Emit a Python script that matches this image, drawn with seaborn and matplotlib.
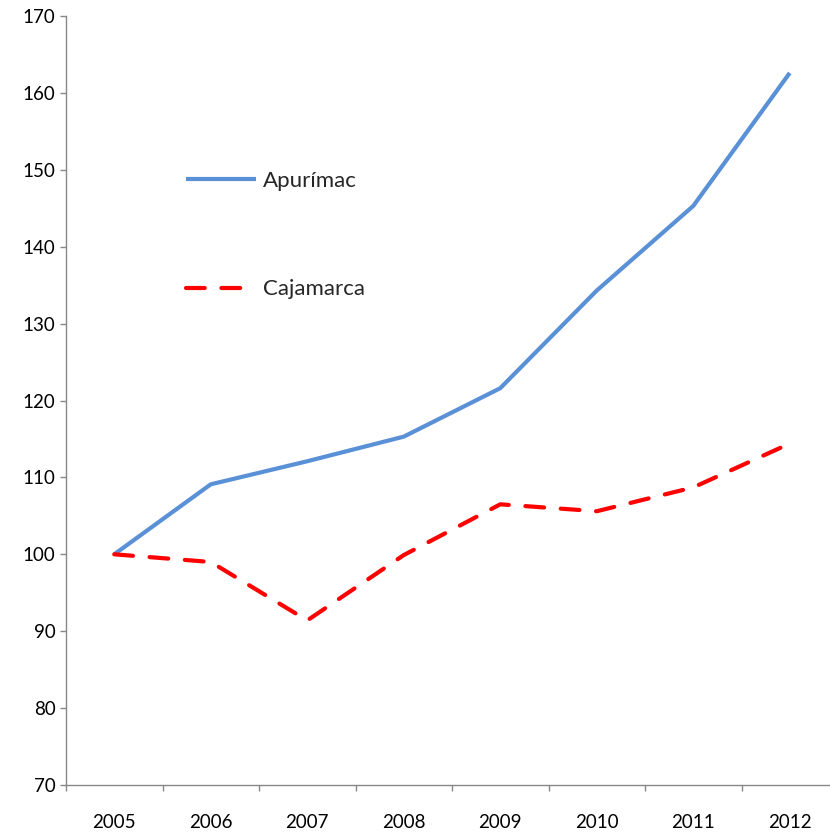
import numpy as np
import pandas as pd
import matplotlib
matplotlib.use("Agg")
import matplotlib.pyplot as plt
from matplotlib.ticker import FixedLocator, MultipleLocator
import seaborn as sns

# ---------- Data ----------
YEARS = ["2005", "2006", "2007", "2008", "2009", "2010", "2011", "2012"]
APURIMAC = [100.0, 109.1, 112.1, 115.3, 121.6, 134.3, 145.3, 162.6]
CAJAMARCA = [100.0, 99.0, 91.4, 99.9, 106.5, 105.6, 108.7, 114.4]

BLUE = "#5990D6"
RED = "#FF0000"
AXIS_GREY = "#888888"

sns.set_theme(style="white")
plt.rcParams["font.family"] = ["Lato", "DejaVu Sans"]

df = pd.DataFrame({"x": np.arange(len(YEARS)), "Apurímac": APURIMAC, "Cajamarca": CAJAMARCA})

fig = plt.figure(figsize=(8.30, 8.32), dpi=100)
ax = fig.add_axes([66 / 830, 47 / 832, (838 - 66) / 830, (785 - 16) / 832])

sns.lineplot(data=df, x="x", y="Apurímac", ax=ax, color=BLUE, linewidth=3.0,
             label="Apurímac", solid_capstyle="butt")
sns.lineplot(data=df, x="x", y="Cajamarca", ax=ax, color=RED, linewidth=3.0,
             label="Cajamarca", dashes=False)
ax.lines[1].set_dashes([4.5, 4.0])
ax.lines[1].set_dash_capstyle("round")

ax.set_xlim(-0.5, len(YEARS) - 0.5)
ax.set_ylim(70, 170)
ax.yaxis.set_major_locator(MultipleLocator(10))

ax.set_xticks(np.arange(len(YEARS)))
ax.set_xticklabels(YEARS)
ax.xaxis.set_minor_locator(FixedLocator(np.arange(len(YEARS) + 1) - 0.5))
ax.tick_params(axis="x", which="major", length=0, pad=21, labelsize=13.5, colors="black")
ax.tick_params(axis="x", which="minor", length=4.5, width=1.0, color=AXIS_GREY, direction="out", bottom=True)
ax.tick_params(axis="y", which="major", length=4.5, width=1.0, color=AXIS_GREY, direction="out",
               left=True, pad=3, labelsize=13.5, labelcolor="black")

for side in ["top", "right"]:
    ax.spines[side].set_visible(False)
for side in ["left", "bottom"]:
    ax.spines[side].set_color(AXIS_GREY)
    ax.spines[side].set_linewidth(1.0)

ax.set_xlabel("")
ax.set_ylabel("")
ax.grid(False)

leg = ax.legend(loc="upper left", bbox_to_anchor=(0.13, 0.825), frameon=False,
                fontsize=16, handlelength=3.15, handletextpad=0.3, labelspacing=4.0)

plt.savefig("out.png", dpi=100)
